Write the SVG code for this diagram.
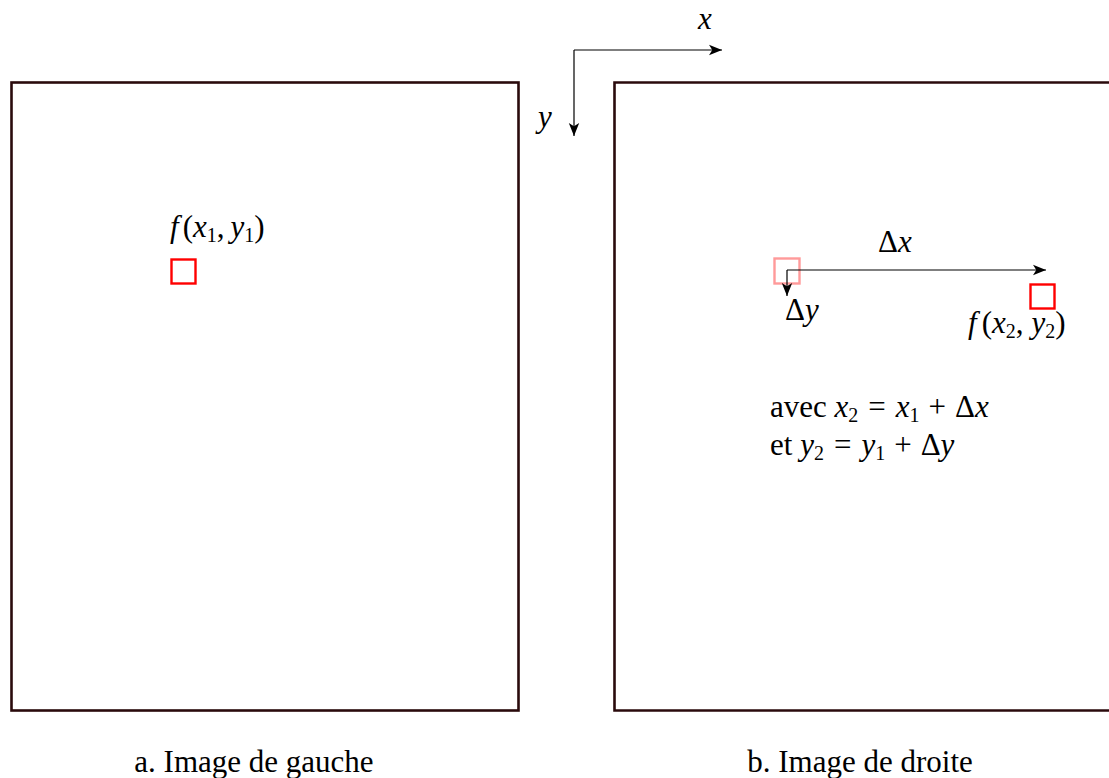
<svg xmlns="http://www.w3.org/2000/svg" width="1109" height="778" viewBox="0 0 1109 778">
<style>
.frame{fill:none;stroke:#2a0a0c;stroke-width:2.6}
.sq{fill:none;stroke:#ff0000;stroke-width:2.4}
.sqp{fill:none;stroke:#ff9a9a;stroke-width:2.4}
.ln{fill:none;stroke:#000;stroke-width:1.2}
text{font-family:"Liberation Serif","DejaVu Serif",serif;font-size:31px;fill:#000}
.m{font-style:italic}
.sub{font-size:20px}
</style>
<defs>
<marker id="ah" viewBox="0 0 10 10" refX="10" refY="5" markerWidth="13" markerHeight="13" markerUnits="userSpaceOnUse" orient="auto">
<path d="M0,1 L10,5 L0,9 L2.5,5 Z" fill="#000"/>
</marker>
</defs>
<g id="left-image">
<rect class="frame" x="11.5" y="82.5" width="507" height="628"/>
</g>
<g id="right-image">
<path class="frame" d="M1110,82.5 H614.5 V710.5 H1110"/>
</g>
<g id="pixel1">
<rect class="sq" x="171.5" y="259.5" width="24" height="24"/>
<text x="170" y="237"><tspan class="m">f</tspan><tspan dx="4">(</tspan><tspan class="m">x</tspan><tspan class="sub" dy="5">1</tspan><tspan dy="-5">,</tspan><tspan class="m" dx="6">y</tspan><tspan class="sub" dy="5">1</tspan><tspan dy="-5">)</tspan></text>
</g>
<g id="pixel1-ghost">
<rect class="sqp" x="774.5" y="258.5" width="25" height="25"/>
</g>
<g id="pixel2">
<rect class="sq" x="1030.5" y="284.5" width="24" height="24"/>
<text x="968" y="333"><tspan class="m">f</tspan><tspan dx="5">(</tspan><tspan class="m">x</tspan><tspan class="sub" dy="5">2</tspan><tspan dy="-5">,</tspan><tspan class="m" dx="8">y</tspan><tspan class="sub" dy="5">2</tspan><tspan dy="-5">)</tspan></text>
</g>
<g id="connectors">
<path class="ln" d="M574,50 H722" marker-end="url(#ah)"/>
<path class="ln" d="M574,50 V136" marker-end="url(#ah)"/>
<path class="ln" d="M787,270 H1046" marker-end="url(#ah)"/>
<path class="ln" d="M787,270 V296" marker-end="url(#ah)"/>
</g>
<g id="labels">
<text class="m" x="698" y="29">x</text>
<text class="m" x="538" y="127">y</text>
<text x="878" y="252">Δ<tspan class="m">x</tspan></text>
<text x="785" y="320">Δ<tspan class="m">y</tspan></text>
<text x="770" y="417">avec <tspan class="m">x</tspan><tspan class="sub" dy="5">2</tspan><tspan dy="-5" dx="10">=</tspan><tspan class="m" dx="10">x</tspan><tspan class="sub" dy="5">1</tspan><tspan dy="-5" dx="9">+</tspan><tspan dx="9">Δ</tspan><tspan class="m">x</tspan></text>
<text x="770" y="455">et <tspan class="m">y</tspan><tspan class="sub" dy="5">2</tspan><tspan dy="-5" dx="10">=</tspan><tspan class="m" dx="10">y</tspan><tspan class="sub" dy="5">1</tspan><tspan dy="-5" dx="9">+</tspan><tspan dx="9">Δ</tspan><tspan class="m">y</tspan></text>
<text x="254" y="772" text-anchor="middle">a. Image de gauche</text>
<text x="860" y="772" text-anchor="middle">b. Image de droite</text>
</g>
</svg>
